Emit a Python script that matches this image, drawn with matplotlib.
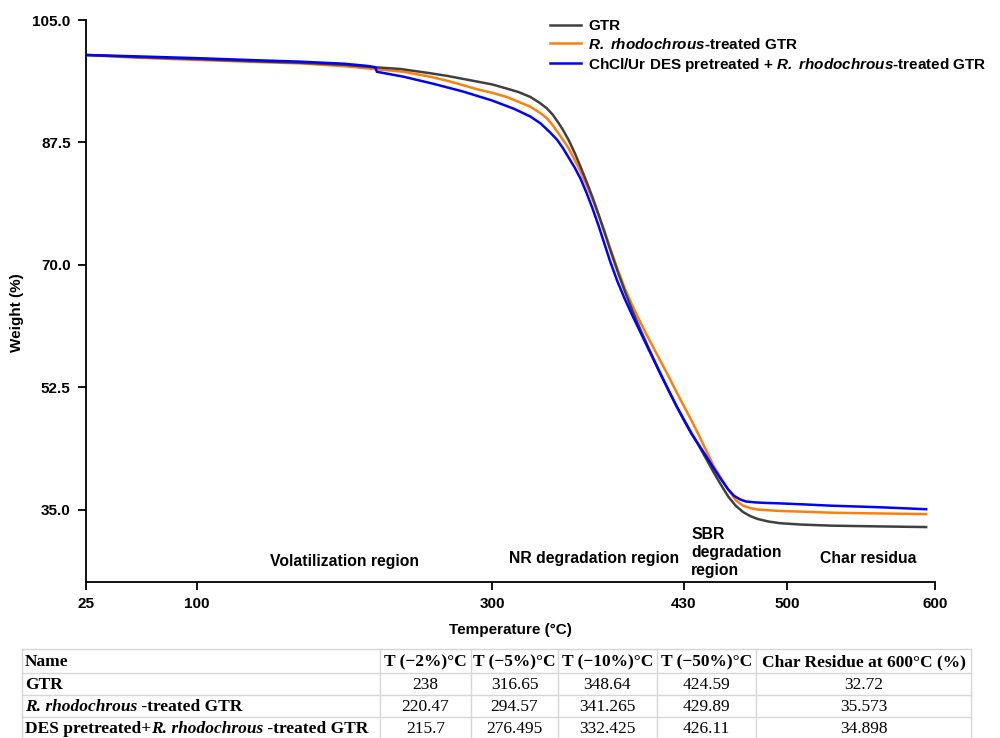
import matplotlib
matplotlib.use('Agg')
import matplotlib.pyplot as plt
from matplotlib.lines import Line2D

plt.rcParams['font.family'] = ['Liberation Sans', 'DejaVu Sans']
plt.rcParams['font.sans-serif'] = ['Liberation Sans']
plt.rcParams['mathtext.fontset'] = 'custom'
plt.rcParams['mathtext.bfit'] = 'Liberation Sans:italic:bold'

# TGA curves, temperature (deg C) vs weight (%)
gtr_temp = [25, 60, 102, 140, 170, 200, 217, 238, 258, 270, 280, 290, 300, 310, 318, 326, 332,
            337, 341, 345, 348, 352, 356, 360, 364, 368, 372, 376, 380, 385, 390, 395, 400, 405,
            410, 415, 420, 425, 430, 435, 440, 445, 450, 455, 460, 465, 470, 475, 480, 487, 495,
            510, 530, 560, 594]
gtr_wt = [100, 99.7, 99.4, 99.1, 98.9, 98.6, 98.3, 98.0, 97.4, 97.0, 96.6, 96.2, 95.8, 95.2, 94.7, 94.0, 93.2,
          92.4, 91.5, 90.3, 89.3, 87.8, 86.0, 84.0, 81.9, 79.7, 77.3, 74.8, 72.2, 69.1, 66.2, 63.5, 61.0, 58.6,
          56.3, 54.1, 51.9, 49.8, 47.9, 46.0, 44.2, 42.3, 40.4, 38.6, 36.9, 35.6, 34.7, 34.1, 33.7, 33.35, 33.1,
          32.9, 32.75, 32.65, 32.55]

rh_temp = [25, 60, 100, 140, 170, 200, 220, 240, 258, 270, 280, 290, 300, 310, 318, 326, 332,
           337, 341, 345, 348, 352, 356, 360, 364, 368, 372, 376, 380, 385, 390, 395, 400, 405,
           410, 415, 420, 425, 430, 435, 440, 445, 450, 455, 460, 465, 470, 475, 480, 487, 495,
           510, 530, 560, 594]
rh_wt = [100, 99.6, 99.3, 99.0, 98.8, 98.4, 98.0, 97.6, 96.9, 96.3, 95.7, 95.1, 94.6, 94.0, 93.3, 92.6, 91.8,
         91.0, 90.0, 88.8, 87.9, 86.6, 85.0, 83.3, 81.4, 79.4, 77.2, 74.9, 72.4, 69.4, 66.6, 64.2, 62.0, 59.9,
         57.9, 55.9, 53.9, 51.8, 49.8, 47.8, 45.7, 43.5, 41.3, 39.6, 37.9, 36.4, 35.6, 35.25, 35.05, 34.95, 34.85,
         34.75, 34.6, 34.5, 34.4]

des_temp = [25, 60, 100, 140, 170, 200, 215, 221, 222, 240, 260, 280, 300, 315, 326, 333, 339,
            344, 348, 352, 356, 360, 364, 368, 372, 376, 380, 385, 390, 395, 400, 405, 410, 415,
            420, 425, 430, 435, 440, 445, 450, 455, 460, 464, 468, 472, 478, 485, 493, 510, 530,
            560, 594]
des_wt = [100, 99.8, 99.55, 99.25, 99.05, 98.75, 98.45, 98.25, 97.6, 96.9, 95.9, 94.8, 93.5, 92.3, 91.2, 90.2,
          89.0, 87.9, 86.7, 85.3, 83.9, 82.3, 80.3, 78.1, 75.7, 73.1, 70.5, 67.6, 65.1, 62.8, 60.6, 58.4, 56.2,
          54.0, 51.9, 49.8, 47.8, 45.9, 44.3, 42.7, 41.0, 39.4, 37.9, 37.0, 36.5, 36.2, 36.08, 36.0, 35.95, 35.8,
          35.6, 35.4, 35.1]

series_labels = ['GTR',
                 r'$\mathbfit{R.\ rhodochrous}$-treated GTR',
                 r'ChCl/Ur DES pretreated + $\mathbfit{R.\ rhodochrous}$-treated GTR']
series_colors = ['#404040', '#ff7f0e', '#0000ff']

x_ticks = [25, 100, 300, 430, 500, 600]
y_ticks = [35.0, 52.5, 70.0, 87.5, 105.0]

regions = ['Volatilization region', 'NR degradation region', 'SBR\ndegradation\nregion', 'Char residua']
region_x = [200, 369, 435, 555]
region_y = [27.7, 28.0, 28.9, 28.0]
region_ha = ['center', 'center', 'left', 'center']

# summary table
table_header = ['Name', 'T (\u22122%)\u00b0C', 'T (\u22125%)\u00b0C', 'T (\u221210%)\u00b0C',
                'T (\u221250%)\u00b0C', 'Char Residue at 600\u00b0C (%)']
table_names = [[('GTR', 'b')],
               [('R. rhodochrous', 'bi'), (' -treated GTR', 'b')],
               [('DES pretreated+', 'b'), ('R. rhodochrous', 'bi'), (' -treated GTR', 'b')]]
table_values = [['238', '316.65', '348.64', '424.59', '32.72'],
                ['220.47', '294.57', '341.265', '429.89', '35.573'],
                ['215.7', '276.495', '332.425', '426.11', '34.898']]

W, H = 1000, 738
fig = plt.figure(figsize=(W / 100, H / 100), dpi=100)
ax = fig.add_axes([0.086, 1 - 582 / H, 0.849, 562 / H])

temps = [gtr_temp, rh_temp, des_temp]
wts = [gtr_wt, rh_wt, des_wt]
lines = []
for t, w, c, lab, z in zip(temps, wts, series_colors, series_labels, [3, 2, 4]):
    ln, = ax.plot(t, w, color=c, lw=1.8, label=lab, zorder=z, solid_joinstyle='round')
    lines.append(ln)

ax.set_xlim(25, 600)
ax.set_ylim(24.7, 105)
ax.set_xticks(x_ticks)
ax.set_yticks(y_ticks)
ax.set_yticklabels([f'{v:.1f}' for v in y_ticks])
for s in ['top', 'right']:
    ax.spines[s].set_visible(False)
for s in ['left', 'bottom']:
    ax.spines[s].set_linewidth(1.3)
ax.tick_params(direction='out', length=6, width=1.3, pad=5, labelsize=11)
for lab in ax.get_xticklabels() + ax.get_yticklabels():
    lab.set_fontweight('bold')

ax.set_xlabel('Temperature (\u00b0C)', fontsize=11, fontweight='bold')
ax.set_ylabel('Weight (%)', fontsize=11, fontweight='bold')
ax.xaxis.set_label_coords(0.5, -0.073)
ax.yaxis.set_label_coords(-0.073, 0.48)

for txt, x, y, ha in zip(regions, region_x, region_y, region_ha):
    ax.text(x, y, txt, ha=ha, va='center', fontsize=11.3, fontweight='bold', linespacing=1.25)

leg = fig.legend(handles=lines, loc='upper left', bbox_to_anchor=(550 / W, 1 - 19 / H),
                 frameon=False, borderpad=0, borderaxespad=0, handlelength=2.05,
                 handletextpad=0.45, labelspacing=0.25, prop={'weight': 'bold', 'size': 11.0})

# table drawn in figure pixels
renderer = fig.canvas.get_renderer()
col_edges = [22, 380, 471, 558, 657, 756, 971]
row_edges = [649, 673, 695, 717, 739]
grid_color = '#d6d6d6'


def px(x, y):
    return x / W, 1 - y / H


def put(parts, x, y, ha='center'):
    objs = []
    for s, st in parts:
        t = fig.text(0, 0, s, family='Liberation Serif', fontsize=12.5,
                     fontweight='bold' if 'b' in st else 'normal',
                     fontstyle='italic' if 'i' in st else 'normal', va='center', ha='left')
        objs.append(t)
    widths = [t.get_window_extent(renderer).width for t in objs]
    x0 = x - sum(widths) / 2 if ha == 'center' else x
    for t, w in zip(objs, widths):
        t.set_position(px(x0, y))
        x0 += w


for y in row_edges:
    fig.add_artist(Line2D([col_edges[0] / W, col_edges[-1] / W], [1 - y / H] * 2,
                          color=grid_color, lw=1))
for x in col_edges:
    fig.add_artist(Line2D([x / W] * 2, [1 - row_edges[0] / H, 1 - row_edges[-1] / H],
                          color=grid_color, lw=1))

row_mid = [(a + b) / 2 + 1 for a, b in zip(row_edges[:-1], row_edges[1:])]
col_mid = [(a + b) / 2 for a, b in zip(col_edges[:-1], col_edges[1:])]

put([(table_header[0], 'b')], col_edges[0] + 3, row_mid[0], ha='left')
for j, h in enumerate(table_header[1:]):
    put([(h, 'b')], col_mid[j + 1], row_mid[0])
for i, name in enumerate(table_names):
    put(name, col_edges[0] + 3, row_mid[i + 1], ha='left')
    for j, v in enumerate(table_values[i]):
        put([(v, 'n')], col_mid[j + 1], row_mid[i + 1])

fig.savefig('out.png', dpi=100)
